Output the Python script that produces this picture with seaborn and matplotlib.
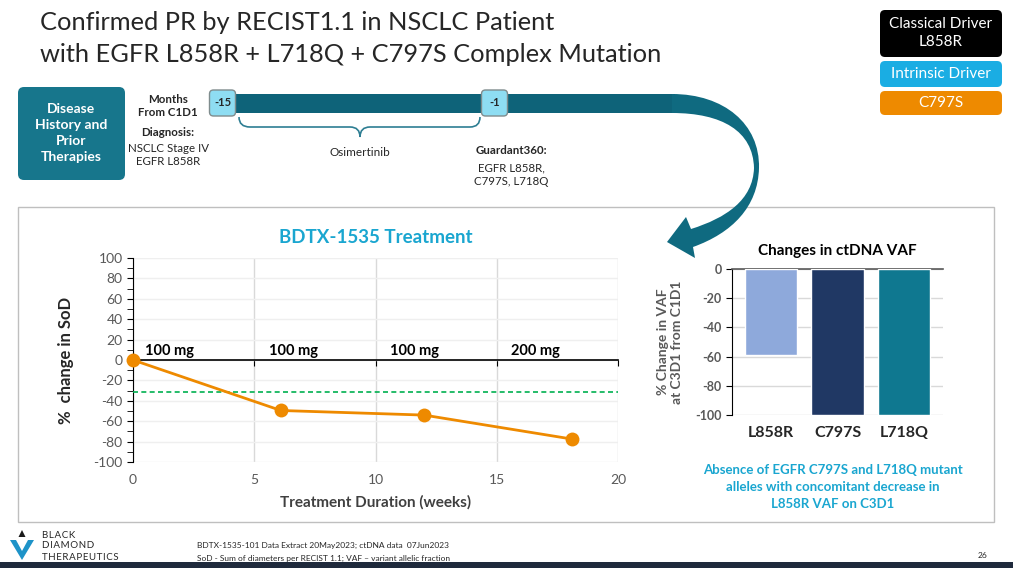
import matplotlib
matplotlib.use("Agg")
import matplotlib.pyplot as plt
import seaborn as sns
from matplotlib.patches import FancyBboxPatch, Rectangle, PathPatch, Polygon
from matplotlib.path import Path
from matplotlib.ticker import MultipleLocator

# data
weeks = [0, 6.1, 12, 18.1]
sod_change = [0, -49.5, -54, -77.5]
pr_threshold = -31
dose_weeks = [0.5, 5.6, 10.6, 15.6]
dose_labels = ["100 mg", "100 mg", "100 mg", "200 mg"]

mutations = ["L858R", "C797S", "L718Q"]
vaf_change = [-59, -100, -100]
bar_colors = ["#8EA9DB", "#203864", "#0F7890"]

W, H = 1013, 568
ORANGE = "#EE8A00"
TEAL = "#0E6379"
CYAN = "#1AA6D0"
GRAY = "#595959"

sns.set_style("white")
plt.rcParams["font.family"] = ["Lato", "DejaVu Sans"]
plt.rcParams["axes.unicode_minus"] = False

fig = plt.figure(figsize=(W / 100, H / 100), dpi=100)

# overlay in pixel coords for the slide decoration
bg = fig.add_axes([0, 0, 1, 1], zorder=0)
bg.set_xlim(0, W)
bg.set_ylim(H, 0)
bg.axis("off")

bg.text(40, 22, "Confirmed PR by RECIST1.1 in NSCLC Patient", fontsize=18.3,
        color="#262626", va="center")
bg.text(40, 55, "with EGFR L858R + L718Q + C797S Complex Mutation", fontsize=18.3,
        color="#262626", va="center")

# legend boxes top right
def rbox(x0, y0, x1, y1, fc, ec="none", r=5, z=2):
    bg.add_patch(FancyBboxPatch((x0 + r, y0 + r), x1 - x0 - 2 * r, y1 - y0 - 2 * r,
                                boxstyle=f"round,pad={r}", fc=fc, ec=ec, lw=1, zorder=z))

rbox(880, 10, 1002, 57, "black")
bg.text(941, 33, "Classical Driver\nL858R", color="white", fontsize=11,
        ha="center", va="center", linespacing=1.3)
rbox(880, 61, 1002, 87, "#1AADE3")
bg.text(941, 74, "Intrinsic Driver", color="white", fontsize=11, ha="center", va="center")
rbox(880, 91, 1002, 115, "#EE8A00")
bg.text(941, 103, "C797S", color="white", fontsize=11, ha="center", va="center")

# disease history box
rbox(18, 87, 125, 180, "#17768C", r=6)
bg.text(71.5, 133, "Disease\nHistory and\nPrior\nTherapies", color="white", fontsize=10,
        fontweight="bold", ha="center", va="center", linespacing=1.4)

bg.text(168, 106, "Months\nFrom C1D1", fontsize=8.3, fontweight="bold", color="#262626",
        ha="center", va="center", linespacing=1.2)
bg.text(168, 133, "Diagnosis:", fontsize=8.3, fontweight="bold", color="#262626",
        ha="center", va="center")
bg.text(168, 155, "NSCLC Stage IV\nEGFR L858R", fontsize=8.3, color="#262626",
        ha="center", va="center", linespacing=1.25)

# timeline band + curved arrow
bg.add_patch(Rectangle((225, 94), 450, 19, fc=TEAL, ec="none", zorder=2))
verts = [(672, 94),
         (724, 94), (760, 124), (759, 168),
         (758, 207), (732, 233), (693, 247),
         (695, 258), (667, 242), (686, 217), (691, 229),
         (726, 218), (753, 200), (754, 168),
         (753, 131), (722, 113), (672, 113),
         (672, 94)]
codes = ([Path.MOVETO] + [Path.CURVE4] * 3 + [Path.CURVE4] * 3 + [Path.LINETO] * 4
         + [Path.CURVE4] * 3 + [Path.CURVE4] * 3 + [Path.CLOSEPOLY])
bg.add_patch(PathPatch(Path(verts, codes), fc="#0F6A80", ec="none", zorder=6))

for xc, lab in [(222.5, "-15"), (494.5, "-1")]:
    rbox(xc - 13, 90, xc + 13, 116, "#8EDDF2", ec="#7F8C8D", r=4, z=3)
    bg.text(xc, 103, lab, fontsize=8, fontweight="bold", color="#262626",
            ha="center", va="center", zorder=4)

# brace
bverts = [(239, 117), (239, 127), (250, 127), (350, 127), (360, 127), (360, 137),
          (360, 127), (370, 127), (470, 127), (480, 127), (480, 117)]
bcodes = [Path.MOVETO, Path.CURVE3, Path.CURVE3, Path.LINETO, Path.CURVE3, Path.CURVE3,
          Path.CURVE3, Path.CURVE3, Path.LINETO, Path.CURVE3, Path.CURVE3]
bg.add_patch(PathPatch(Path(bverts, bcodes), fc="none", ec="#2E7E93", lw=1.2, zorder=3))
bg.text(360, 152, "Osimertinib", fontsize=8.5, color="#262626", ha="center", va="center")
bg.text(511, 151, "Guardant360:", fontsize=8.3, fontweight="bold", color="#262626",
        ha="center", va="center")
bg.text(511, 175, "EGFR L858R,\nC797S, L718Q", fontsize=8.3, color="#262626",
        ha="center", va="center", linespacing=1.3)

# panel frame
bg.add_patch(Rectangle((17.5, 207), 976.5, 315, fc="none", ec="#BFBFBF", lw=1, zorder=1))

# footer
bg.add_patch(Polygon([(10, 540), (16, 540), (22, 551), (28, 540), (34, 540), (22, 560)],
                     fc="#1E93C8", ec="none"))
bg.add_patch(Polygon([(18.5, 537), (22, 530), (25.5, 537)], fc="#1a1a1a", ec="none"))
for yy, t in [(535, "B L A C K"), (546, "D I A M O N D"), (557, "T H E R A P E U T I C S")]:
    bg.text(42, yy, t.replace(" ", "\u200a"), fontsize=7, color="#262626", va="center")
bg.text(197, 545, "BDTX-1535-101 Data Extract 20May2023; ctDNA data  07Jun2023",
        fontsize=6, color="#262626", va="center")
bg.text(197, 558, "SoD - Sum of diameters per RECIST 1.1; VAF \u2013 variant allelic fraction",
        fontsize=6, color="#262626", va="center")
bg.text(978, 556, "26", fontsize=6, color="#262626", va="center")
bg.add_patch(Rectangle((0, 562), W, 6, fc="#1F2A3C", ec="none"))

# left chart: % change in SoD
ax1 = fig.add_axes([133 / W, 1 - 462 / H, 485 / W, 204 / H], zorder=2)
ax1.set_xlim(0, 20)
ax1.set_ylim(-100, 100)
ax1.set_yticks(range(-100, 101, 20))
ax1.yaxis.set_minor_locator(MultipleLocator(10))
ax1.set_xticks([0, 5, 10, 15, 20])
ax1.grid(axis="y", color="#EFEFEF", lw=1)
ax1.grid(axis="x", color="#D9D9D9", lw=1)
ax1.set_axisbelow(True)
ax1.axhline(pr_threshold, color="#00B050", ls=(0, (3, 2)), lw=1.2, zorder=3)
sns.lineplot(x=weeks, y=sod_change, ax=ax1, color=ORANGE, lw=2, marker="o",
             markersize=10, markeredgewidth=0, clip_on=False, zorder=5)
for xw, lab in zip(dose_weeks, dose_labels):
    ax1.text(xw, 2, lab, fontsize=10.5, fontweight="bold", color="black",
             ha="left", va="bottom", zorder=4)
for s in ["top", "right"]:
    ax1.spines[s].set_visible(False)
ax1.spines["left"].set_color("black")
ax1.spines["bottom"].set_position(("data", 0))
ax1.spines["bottom"].set_color("black")
ax1.spines["bottom"].set_linewidth(1.2)
ax1.tick_params(axis="x", which="both", direction="out", length=4, color="black",
                labelbottom=False, bottom=True)
ax1.tick_params(axis="y", which="both", direction="out", length=4, color="black",
                left=True, labelsize=10, labelcolor=GRAY)
sec = ax1.secondary_xaxis("bottom")
sec.set_xticks([0, 5, 10, 15, 20])
sec.spines["bottom"].set_visible(False)
sec.tick_params(length=0, pad=9, labelsize=10, labelcolor=GRAY)
sec.set_xlabel("Treatment Duration (weeks)", fontsize=11, fontweight="bold",
               color="#404040", labelpad=6)
ax1.set_ylabel("%  change in SoD", fontsize=12, fontweight="bold", color="#262626",
               labelpad=14)
ax1.set_title("BDTX-1535 Treatment", fontsize=13.5, fontweight="bold", color=CYAN, pad=11)

# right chart: ctDNA VAF
ax2 = fig.add_axes([732 / W, 1 - 415 / H, 211 / W, 146 / H], zorder=2)
sns.barplot(x=mutations, y=vaf_change, hue=mutations, palette=bar_colors, legend=False,
            width=0.78, saturation=1, ax=ax2, zorder=3)
ax2.set_ylim(-100, 0)
ax2.set_xlim(-0.58, 2.58)
ax2.set_yticks(range(-100, 1, 20))
ax2.grid(axis="y", color="#D9D9D9", lw=1)
ax2.set_axisbelow(True)
ax2.spines["right"].set_visible(False)
ax2.spines["bottom"].set_visible(False)
ax2.spines["top"].set_color(GRAY)
ax2.spines["top"].set_linewidth(1.2)
ax2.spines["left"].set_color("black")
ax2.tick_params(axis="y", direction="out", length=4, color="black", left=True,
                labelsize=9, labelcolor=GRAY)
for t in ax2.get_yticklabels():
    t.set_fontweight("bold")
ax2.tick_params(axis="x", length=0, pad=8, labelsize=11.5)
for t in ax2.get_xticklabels():
    t.set_fontweight("bold")
ax2.set_ylabel("% Change in VAF\nat C3D1 from C1D1", fontsize=10, fontweight="bold",
               color=GRAY, labelpad=9, linespacing=1.2)
ax2.set_title("Changes in ctDNA VAF", fontsize=11, fontweight="bold", color="black", pad=10)

bg.text(833, 487, "Absence of EGFR C797S and L718Q mutant\nalleles with concomitant decrease in\nL858R VAF on C3D1",
        fontsize=9.5, fontweight="bold", color=CYAN, ha="center", va="center",
        linespacing=1.5)

fig.savefig("out.png", dpi=100)
